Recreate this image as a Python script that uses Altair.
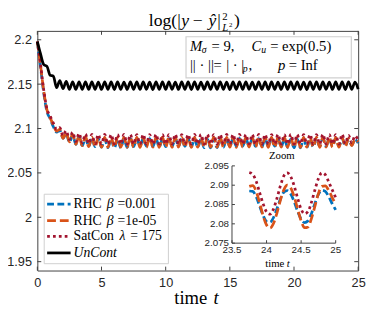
import altair as alt
import pandas as pd

# ---------------- layout (plot area of the main axes) ----------------
W, H = 328, 245

# ---------------- main axes data ----------------
X_DOMAIN = [0, 25]
Y_DOMAIN = [1.94, 2.21]
X_TICKS = [0, 5, 10, 15, 20, 25]
Y_TICKS = [1.95, 2.0, 2.05, 2.1, 2.15, 2.2]

T = [i * 0.25 for i in range(101)]

# RHC beta = 0.001 (blue)
RHC_A = [2.198, 2.169, 2.140, 2.119, 2.111, 2.102, 2.096, 2.098, 2.089,
         2.0945, 2.0845, 2.0925, 2.0822, 2.0905, 2.0806, 2.0893, 2.0800, 2.0888, 2.0796,
         2.0884, 2.0790, 2.0880, 2.0784, 2.0879, 2.0781, 2.0880, 2.0783, 2.0883, 2.0789,
         2.0886, 2.0796, 2.0888, 2.0801, 2.0887, 2.0802, 2.0886, 2.0797, 2.0884, 2.0792,
         2.0885, 2.0795, 2.0887, 2.0800, 2.0888, 2.0803, 2.0887, 2.0800, 2.0885, 2.0795,
         2.0882, 2.0789, 2.0880, 2.0784, 2.0879, 2.0782, 2.0881, 2.0785, 2.0884, 2.0791,
         2.0886, 2.0797, 2.0888, 2.0802, 2.0888, 2.0803, 2.0887, 2.0801, 2.0886, 2.0798,
         2.0885, 2.0794, 2.0886, 2.0797, 2.0887, 2.0801, 2.0885, 2.0796, 2.0882, 2.0789,
         2.0880, 2.0784, 2.0880, 2.0783, 2.0882, 2.0787, 2.0885, 2.0793, 2.0887, 2.0799,
         2.0888, 2.0802, 2.0887, 2.0803, 2.0886, 2.0803, 2.0885, 2.0804, 2.0882, 2.0812,
         2.0876, 2.0836]

# RHC beta = 1e-05 (orange)
RHC_B = [2.198, 2.171, 2.142, 2.121, 2.112, 2.104, 2.097, 2.099, 2.089,
         2.0955, 2.0850, 2.0935, 2.0822, 2.0915, 2.0806, 2.0908, 2.0796, 2.0903, 2.0792,
         2.0901, 2.0790, 2.0900, 2.0789, 2.0901, 2.0790, 2.0899, 2.0791, 2.0900, 2.0789,
         2.0902, 2.0790, 2.0900, 2.0788, 2.0899, 2.0790, 2.0901, 2.0791, 2.0900, 2.0789,
         2.0902, 2.0790, 2.0899, 2.0789, 2.0900, 2.0791, 2.0901, 2.0790, 2.0900, 2.0788,
         2.0899, 2.0790, 2.0901, 2.0789, 2.0900, 2.0791, 2.0902, 2.0790, 2.0899, 2.0789,
         2.0900, 2.0790, 2.0901, 2.0788, 2.0900, 2.0790, 2.0899, 2.0791, 2.0901, 2.0789,
         2.0900, 2.0790, 2.0902, 2.0789, 2.0899, 2.0790, 2.0900, 2.0791, 2.0901, 2.0789,
         2.0900, 2.0790, 2.0899, 2.0788, 2.0901, 2.0790, 2.0900, 2.0791, 2.0902, 2.0789,
         2.0899, 2.0790, 2.0900, 2.0789, 2.0901, 2.0790, 2.0898, 2.0797, 2.0888, 2.0808,
         2.0878, 2.0850]

# SatCon lambda = 175 (dark red)
SAT = [2.198, 2.172, 2.143, 2.122, 2.114, 2.106, 2.099, 2.101, 2.092,
       2.0975, 2.0878, 2.0958, 2.0855, 2.0945, 2.0840, 2.0938, 2.0831, 2.0934, 2.0827,
       2.0932, 2.0826, 2.0933, 2.0825, 2.0931, 2.0827, 2.0932, 2.0826, 2.0934, 2.0825,
       2.0932, 2.0826, 2.0931, 2.0827, 2.0933, 2.0825, 2.0932, 2.0826, 2.0934, 2.0826,
       2.0931, 2.0825, 2.0932, 2.0827, 2.0933, 2.0826, 2.0932, 2.0825, 2.0931, 2.0826,
       2.0933, 2.0827, 2.0932, 2.0826, 2.0934, 2.0825, 2.0932, 2.0826, 2.0931, 2.0827,
       2.0933, 2.0826, 2.0932, 2.0825, 2.0934, 2.0826, 2.0931, 2.0827, 2.0932, 2.0826,
       2.0933, 2.0825, 2.0932, 2.0826, 2.0931, 2.0827, 2.0933, 2.0826, 2.0932, 2.0825,
       2.0934, 2.0826, 2.0932, 2.0827, 2.0931, 2.0826, 2.0933, 2.0825, 2.0932, 2.0826,
       2.0934, 2.0827, 2.0932, 2.0826, 2.0931, 2.0825, 2.0933, 2.0831, 2.0924, 2.0838,
       2.0917, 2.0868]

# UnCont (black)
UNC = [2.198, 2.184, 2.172, 2.170, 2.160, 2.159, 2.146, 2.154, 2.145,
       2.1530, 2.1441, 2.1527, 2.1440, 2.1526, 2.1442, 2.1525, 2.1440, 2.1527, 2.1441,
       2.1524, 2.1440, 2.1526, 2.1442, 2.1525, 2.1439, 2.1527, 2.1441, 2.1524, 2.1440,
       2.1526, 2.1441, 2.1525, 2.1440, 2.1527, 2.1442, 2.1524, 2.1439, 2.1526, 2.1441,
       2.1525, 2.1440, 2.1527, 2.1442, 2.1524, 2.1440, 2.1526, 2.1441, 2.1525, 2.1439,
       2.1527, 2.1441, 2.1524, 2.1440, 2.1526, 2.1442, 2.1525, 2.1440, 2.1527, 2.1441,
       2.1524, 2.1439, 2.1526, 2.1441, 2.1525, 2.1440, 2.1527, 2.1442, 2.1524, 2.1440,
       2.1526, 2.1441, 2.1525, 2.1439, 2.1527, 2.1441, 2.1524, 2.1440, 2.1526, 2.1442,
       2.1525, 2.1440, 2.1527, 2.1441, 2.1524, 2.1439, 2.1526, 2.1441, 2.1525, 2.1440,
       2.1527, 2.1442, 2.1524, 2.1440, 2.1526, 2.1441, 2.1525, 2.1439, 2.1527, 2.1441,
       2.1524, 2.1445]

# ---------------- inset (zoom) data ----------------
Z_X_DOMAIN = [23.5, 25]
Z_Y_DOMAIN = [2.075, 2.095]
Z_X_TICKS = [23.5, 24, 24.5, 25]
Z_Y_TICKS = [2.075, 2.08, 2.085, 2.09, 2.095]
Z_Y_LABELS = ["2.075", "2.08", "2.085", "2.09", "2.095"]

TZ = [round(23.75 + 0.05 * i, 2) for i in range(26)]
Z_RHC_A = [2.0885, 2.0884, 2.0870, 2.0846, 2.0822, 2.0806, 2.0804, 2.0816, 2.0839,
           2.0864, 2.0882, 2.0886, 2.0877, 2.0857, 2.0832, 2.0812, 2.0803, 2.0808,
           2.0827, 2.0853, 2.0876, 2.0887, 2.0884, 2.0870, 2.0852, 2.0836]
Z_RHC_B = [2.0897, 2.0899, 2.0884, 2.0854, 2.0821, 2.0797, 2.0789, 2.0801, 2.0828,
           2.0861, 2.0888, 2.0900, 2.0893, 2.0870, 2.0838, 2.0808, 2.0790, 2.0792,
           2.0814, 2.0846, 2.0878, 2.0897, 2.0898, 2.0886, 2.0868, 2.0850]
Z_SAT = [2.0933, 2.0928, 2.0910, 2.0881, 2.0852, 2.0831, 2.0825, 2.0838, 2.0866,
         2.0898, 2.0924, 2.0932, 2.0922, 2.0898, 2.0866, 2.0838, 2.0826, 2.0832,
         2.0856, 2.0888, 2.0917, 2.0932, 2.0927, 2.0908, 2.0888, 2.0868]

LEGEND_PARTS = [("RHC", "β", "=0.001"), ("RHC", "β", "=1e-05"),
                ("SatCon", "λ", "= 175"), ("UnCont", "", "")]

# ---------------- styles ----------------
COLORS = ["#0072BD", "#D95319", "#A2142F", "#000000"]
DASHES = [[7, 3.5], [9, 4], [2.8, 3.2], None]
LW = 2.8
FRAME = "#404040"
LABEL = "#262626"
SERIF = "Liberation Serif"
SANS = "Liberation Sans"

df_main = pd.DataFrame({"t": T, "a": RHC_A, "b": RHC_B, "s": SAT, "u": UNC})
df_zoom = pd.DataFrame({"t": TZ, "a": Z_RHC_A, "b": Z_RHC_B, "s": Z_SAT})
ONE = pd.DataFrame({"k": [0]})


def xs():
    return alt.Scale(domain=X_DOMAIN, nice=False, zero=False)


def ys():
    return alt.Scale(domain=Y_DOMAIN, nice=False, zero=False)


# inset occupies its own pixel box inside the plot area
ZX0, ZX1, ZY0, ZY1 = 199, 305, 217, 138
PAD = 0.1  # fraction of a tick step added around the inset scales (kept out of sight)


def padded(lo, hi, p0, p1):
    d = (hi - lo) * PAD / 4
    k = (p1 - p0) / (hi - lo)
    return [lo - d, hi + d], [p0 - d * k, p1 + d * k]


def xz():
    dom, rng = padded(Z_X_DOMAIN[0], Z_X_DOMAIN[1], ZX0, ZX1)
    return alt.Scale(domain=dom, range=rng, nice=False, zero=False)


def yz():
    dom, rng = padded(Z_Y_DOMAIN[0], Z_Y_DOMAIN[1], ZY0, ZY1)
    return alt.Scale(domain=dom, range=rng, nice=False, zero=False)


def line(df, col, i, xscale, yscale, xaxis=None, yaxis=None):
    kw = dict(color=COLORS[i], strokeWidth=LW, interpolate="monotone", strokeCap="butt")
    if DASHES[i]:
        kw["strokeDash"] = DASHES[i]
    return alt.Chart(df).mark_line(**kw).encode(
        x=alt.X("t:Q", scale=xscale, axis=xaxis),
        y=alt.Y(f"{col}:Q", scale=yscale, axis=yaxis),
    )


def txt(text, x, y, size, style="normal", font=SERIF, align="left", color="#000000"):
    return alt.Chart(ONE).mark_text(
        text=text, font=font, fontSize=size, fontStyle=style, align=align,
        baseline="middle", color=color,
    ).encode(x=alt.value(x), y=alt.value(y))


main_xaxis = alt.Axis(orient="bottom", values=X_TICKS, format="~g", ticks=False, domain=False,
                      grid=False, labelFont=SANS, labelFontSize=13, labelColor=LABEL,
                      labelPadding=6, labelFlush=False, labelOverlap=False, title=None)
main_yaxis = alt.Axis(orient="left", values=Y_TICKS, format="~g", ticks=False, domain=False,
                      grid=False, labelFont=SANS, labelFontSize=13, labelColor=LABEL,
                      labelPadding=6, labelOverlap=False, title=None)

df_xt = pd.DataFrame({"v": X_TICKS})
df_yt = pd.DataFrame({"v": Y_TICKS})
tick_kw = dict(color=FRAME, strokeWidth=1)
main_ticks = [
    alt.Chart(df_xt).mark_rule(**tick_kw).encode(x=alt.X("v:Q", scale=xs(), axis=None), y=alt.value(H), y2=alt.value(H - 4)),
    alt.Chart(df_xt).mark_rule(**tick_kw).encode(x=alt.X("v:Q", scale=xs(), axis=None), y=alt.value(0), y2=alt.value(4)),
    alt.Chart(df_yt).mark_rule(**tick_kw).encode(y=alt.Y("v:Q", scale=ys(), axis=None), x=alt.value(0), x2=alt.value(4)),
    alt.Chart(df_yt).mark_rule(**tick_kw).encode(y=alt.Y("v:Q", scale=ys(), axis=None), x=alt.value(W - 4), x2=alt.value(W)),
]

main_lines = [
    line(df_main, "a", 0, xs(), ys()),
    line(df_main, "b", 1, xs(), ys()),
    line(df_main, "s", 2, xs(), ys()),
    line(df_main, "u", 3, xs(), ys(), main_xaxis, main_yaxis),
]

# legend (manual, MATLAB style)
LEG_Y = [177, 194, 210, 227]
legend = [alt.Chart(ONE).mark_rect(fill="white", stroke="#cfcfcf", strokeWidth=1).encode(
    x=alt.value(7), x2=alt.value(134), y=alt.value(167), y2=alt.value(238))]
for i, (a, g, b) in enumerate(LEGEND_PARTS):
    kw = dict(color=COLORS[i], strokeWidth=LW, strokeCap="butt")
    if DASHES[i]:
        kw["strokeDash"] = DASHES[i]
    legend.append(alt.Chart(ONE).mark_rule(**kw).encode(
        x=alt.value(10), x2=alt.value(34), y=alt.value(LEG_Y[i])))
    if g:
        wa = 30 if a == "RHC" else 43
        legend.append(txt(a, 37, LEG_Y[i], 14))
        legend.append(txt(g, 37 + wa + 4, LEG_Y[i], 14, "italic"))
        legend.append(txt(b, 37 + wa + 15, LEG_Y[i], 14))
    else:
        legend.append(txt(a, 37, LEG_Y[i], 14, "italic"))

# parameter box (top right)
box = [alt.Chart(ONE).mark_rect(fill="white", stroke="#cfcfcf", strokeWidth=1.2).encode(
    x=alt.value(152), x2=alt.value(321), y=alt.value(6), y2=alt.value(48))]
box += [
    txt("M", 156, 16, 15, "italic"),
    txt("σ", 168, 20, 10, "italic"),
    txt("= 9,", 178, 16, 15),
    txt("C", 219, 16, 15, "italic"),
    txt("u", 229, 20, 10, "italic"),
    txt("= exp(0.5)", 238, 16, 15),
    txt("|| · ||", 156, 35, 15),
    txt("=", 180, 35, 15),
    txt("| · |", 193, 35, 15),
    txt("p", 210, 39, 10, "italic"),
    txt(",", 216, 35, 15),
    txt("p", 246, 35, 15, "italic"),
    txt("= Inf", 257, 35, 15),
]

# title and x label
titles = [
    txt("log(|", 114, -10, 18),
    txt("y", 147, -10, 18, "italic"),
    txt("−", 159, -10, 18),
    txt("ŷ", 175, -10, 18, "italic"),
    txt("|", 184, -10, 18),
    txt("2", 189, -14, 11),
    txt("L", 189, -3, 11, "italic"),
    txt("2", 196, -6, 7),
    txt(")", 201, -10, 18),
    txt("time", 140, 273, 19),
    txt("t", 180, 273, 19, "italic"),
]

# ---------------- inset ----------------
df_zxt = pd.DataFrame({"v": Z_X_TICKS})
df_zyt = pd.DataFrame({"v": Z_Y_TICKS, "lab": Z_Y_LABELS})
df_zx_dom = pd.DataFrame({"v": [Z_X_DOMAIN[0]], "v2": [Z_X_DOMAIN[1]]})
df_zy_dom = pd.DataFrame({"v": [Z_Y_DOMAIN[0]], "v2": [Z_Y_DOMAIN[1]]})
z_axes = [
    # axis lines
    alt.Chart(df_zx_dom).mark_rule(**tick_kw).encode(
        x=alt.X("v:Q", scale=xz(), axis=None), x2="v2:Q", y=alt.value(ZY0)),
    alt.Chart(df_zy_dom).mark_rule(**tick_kw).encode(
        y=alt.Y("v:Q", scale=yz(), axis=None), y2="v2:Q", x=alt.value(ZX0)),
    # inward ticks
    alt.Chart(df_zxt).mark_rule(**tick_kw).encode(
        x=alt.X("v:Q", scale=xz(), axis=None), y=alt.value(ZY0), y2=alt.value(ZY0 - 3)),
    alt.Chart(df_zyt).mark_rule(**tick_kw).encode(
        y=alt.Y("v:Q", scale=yz(), axis=None), x=alt.value(ZX0), x2=alt.value(ZX0 + 3)),
    # tick labels
    alt.Chart(df_zyt).mark_text(font=SANS, fontSize=10, color=LABEL, align="right", baseline="middle").encode(
        y=alt.Y("v:Q", scale=yz(), axis=None), x=alt.value(ZX0 - 3), text="lab:N"),
    alt.Chart(df_zxt).mark_text(font=SANS, fontSize=10, color=LABEL, align="center", baseline="top").encode(
        x=alt.X("v:Q", scale=xz(), axis=None), y=alt.value(ZY0 + 2), text=alt.Text("v:Q", format="~g")),
]
z_lines = [
    line(df_zoom, "a", 0, xz(), yz()),
    line(df_zoom, "b", 1, xz(), yz()),
    line(df_zoom, "s", 2, xz(), yz()),
]
z_text = [
    txt("Zoom", 250, 128, 11, align="center"),
    txt("time", 233, 238, 11),
    txt("t", 255, 238, 11, "italic"),
]

chart = alt.layer(
    *main_ticks, *main_lines, *legend, *box, *titles, *z_axes, *z_lines, *z_text
).resolve_scale(x="independent", y="independent").resolve_axis(
    x="independent", y="independent"
).properties(
    width=W, height=H,
    autosize=alt.AutoSizeParams(type="none"),
    padding={"left": 30, "top": 20, "right": 8, "bottom": 40},
    background="white",
).configure_view(stroke=FRAME, strokeWidth=1)

chart.save("out.html", embed_options={"renderer": "svg", "actions": False})
